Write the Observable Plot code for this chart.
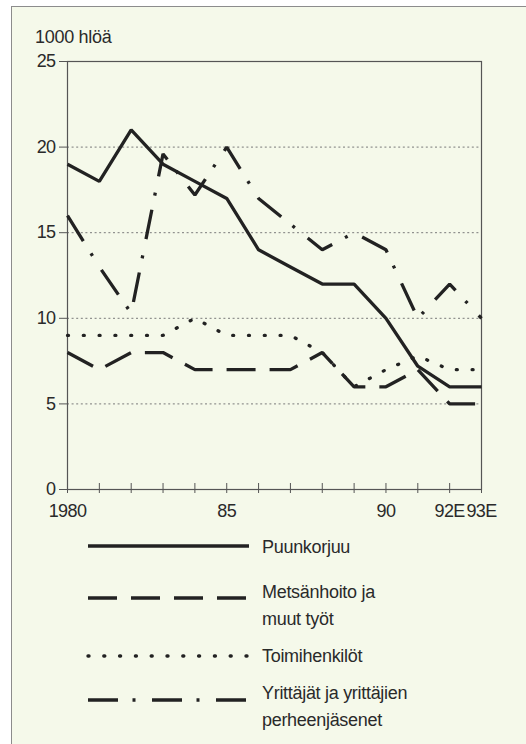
<!DOCTYPE html>
<html>
<head>
<meta charset="utf-8">
<script src="https://cdn.jsdelivr.net/npm/d3@7"></script>
<script src="https://cdn.jsdelivr.net/npm/@observablehq/plot@0.6"></script>
<style>
  html, body { margin: 0; padding: 0; background: #ffffff; }
  #page { position: relative; width: 526px; height: 744px; overflow: hidden; font-family: "Liberation Sans", Arial, sans-serif; }
  #panel { position: absolute; left: 11px; top: 6px; width: 540px; height: 760px; background: #f5f9ea; border: 1px solid #8c8c8c; box-sizing: border-box; }
  #ylabel { position: absolute; left: 35px; top: 26px; font-size: 18px; color: #2a2a2a; line-height: 22px; white-space: nowrap; letter-spacing: -0.3px; }
  #chart { position: absolute; left: 0; top: 0; }
  #legend { position: absolute; left: 0; top: 530px; }
</style>
</head>
<body>
<div id="page">
  <div id="panel"></div>
  <div id="chart"></div>
  <div id="ylabel">1000 hlöä</div>
  <div id="legend"></div>
</div>
<script>
// ---- data ----
const years = [1980, 1981, 1982, 1983, 1984, 1985, 1986, 1987, 1988, 1989, 1990, 1991, 1992, 1993];
const puunkorjuu    = [19, 18, 21, 19, 18, 17, 14, 13, 12, 12, 10, 7.2, 6, 6];
const metsanhoito   = [8, 7, 8, 8, 7, 7, 7, 7, 8, 6, 6, 7, 5, 5];
const toimihenkilot = [9, 9, 9, 9, 10, 9, 9, 9, 8, 6, 7, 7.8, 7, 7];
const yrittajat     = [16, 13, 10.3, 19.6, 17.2, 20, 17, 15.5, 14, 15, 14, 10, 12, 10];
const xTickValues = [1980, 1985, 1990, 1992, 1993];
const xTickLabels = ["1980", "85", "90", "92E", "93E"];
const yTickValues = [0, 5, 10, 15, 20, 25];
const gridValues  = [5, 10, 15, 20];
const seriesNames = ["Puunkorjuu", "Metsänhoito ja muut työt", "Toimihenkilöt", "Yrittäjät ja yrittäjien perheenjäsenet"];
const legendLines = [["Puunkorjuu"], ["Metsänhoito ja", "muut työt"], ["Toimihenkilöt"], ["Yrittäjät ja yrittäjien", "perheenjäsenet"]];
const seriesValues = [puunkorjuu, metsanhoito, toimihenkilot, yrittajat];

// ---- styles ----
const ink = "#222";
const styles = [
  { dash: null, cap: "butt" },
  { dash: "29,14", cap: "butt" },
  { dash: "1,14.8", cap: "round" },
  { dash: "30,14.5,3,16.5", cap: "butt" }
];

const rows = [];
seriesValues.forEach((vals, s) => vals.forEach((v, i) => rows.push({ series: seriesNames[s], year: years[i], value: v })));

const labelOf = d => { const i = xTickValues.indexOf(d); return i >= 0 ? xTickLabels[i] : ""; };

const chart = Plot.plot({
  width: 526,
  height: 530,
  marginLeft: 67,
  marginRight: 45,
  marginTop: 61,
  marginBottom: 41,
  style: { background: "transparent", fontFamily: "'Liberation Sans', Arial, sans-serif", fontSize: "18px", color: "#2a2a2a", overflow: "visible", letterSpacing: "-0.6px" },
  x: { domain: [1980, 1993] },
  y: { domain: [0, 25] },
  marks: [
    Plot.ruleY(gridValues, { stroke: "#7a7a7a", strokeWidth: 1, strokeDasharray: "2,2.6" }),
    Plot.frame({ stroke: "#555", strokeWidth: 1.2 }),
    Plot.axisY({ ticks: yTickValues, tickSize: 8, tickPadding: 4, label: null, stroke: "#555", fill: "#2a2a2a", fontSize: 18 }),
    Plot.axisX({ ticks: years, tickSize: 4, tickPadding: 11, tickFormat: labelOf, label: null, stroke: "#555", fill: "#2a2a2a", fontSize: 18 }),
    Plot.tickX(years, { x: d => d, insetTop: 422, stroke: "#555", strokeWidth: 1 }),
    ...seriesNames.map((name, s) =>
      Plot.line(rows.filter(r => r.series === name), {
        x: "year", y: "value",
        stroke: ink, strokeWidth: 3.3,
        strokeDasharray: styles[s].dash,
        strokeLinecap: styles[s].cap,
        strokeLinejoin: "miter"
      })
    )
  ]
});
document.getElementById("chart").appendChild(chart);

// ---- legend ----
const lg = d3.select("#legend").append("svg").attr("width", 526).attr("height", 214)
  .style("font-family", "'Liberation Sans', Arial, sans-serif");
const lineY = [16, 68, 126, 170];
const textY = [[23], [67.5, 94.5], [131.5], [169, 195.5]];
seriesNames.forEach((name, s) => {
  lg.append("line").attr("x1", 88).attr("x2", 249).attr("y1", lineY[s]).attr("y2", lineY[s])
    .attr("stroke", ink).attr("stroke-width", 3.4)
    .attr("stroke-dasharray", styles[s].dash).attr("stroke-linecap", styles[s].cap);
  const t = lg.append("text").attr("fill", "#2a2a2a").attr("font-size", 18).attr("letter-spacing", "-0.3px");
  legendLines[s].forEach((ln, k) => t.append("tspan").attr("x", 262).attr("y", textY[s][k]).text(ln));
});
</script>
</body>
</html>
